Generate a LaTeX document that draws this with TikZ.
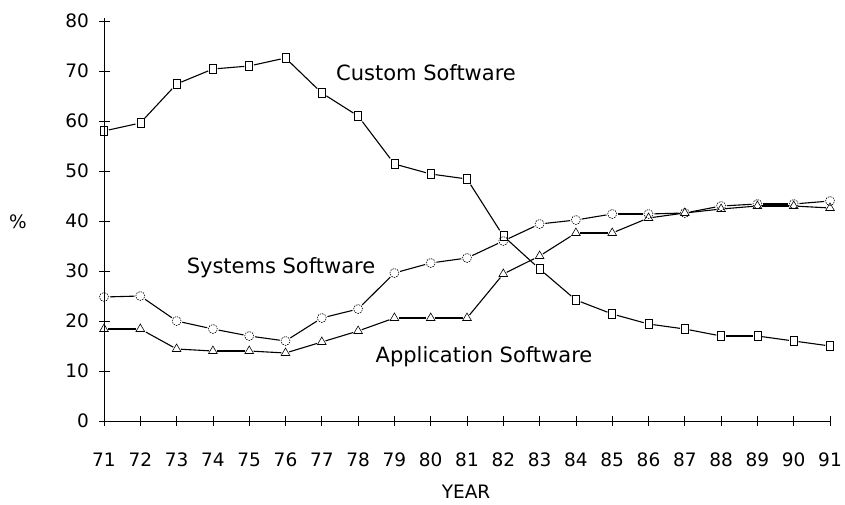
\documentclass[tikz,border=0pt]{standalone}
\usepackage{fontspec}
\setmainfont{DejaVu Sans}
\usetikzlibrary{shapes.geometric}
\tikzset{
  axisline/.style={line width=1pt, black},
  tickmark/.style={line width=0.8pt, black},
  curve/.style={line width=1.1pt, black, shorten <=1pt, shorten >=1pt},
  custmark/.style={draw, rectangle, line width=0.6pt, minimum width=7pt, minimum height=9pt, inner sep=0pt},
  sysmark/.style={draw, circle, dashed, dash pattern=on 1.5pt off 1pt, line width=0.6pt, minimum size=9pt, inner sep=0pt},
  appmark/.style={draw, regular polygon, regular polygon sides=3, line width=0.6pt, minimum size=10pt, inner sep=0pt},
  ticklabel/.style={font=\fontsize{18.5}{20}\selectfont, inner sep=0pt},
  serieslabel/.style={font=\fontsize{21}{24}\selectfont, inner sep=0pt},
}
\begin{document}
\begin{tikzpicture}[x=1pt, y=1pt]
\useasboundingbox (0,0) rectangle (845,504);

% axes
\coordinate (origin) at (104,83);
\coordinate (xend) at (830,83);
\coordinate (yend) at (104,486);
\draw[axisline] (origin) -- (xend);
\draw[axisline] (origin) -- (yend);

% y ticks and labels
\foreach \v in {0,10,...,80} {
  \draw[tickmark] (99,{83+5*\v}) -- (110,{83+5*\v});
  \node[ticklabel, anchor=east] (yl\v) at (89,{83+5*\v}) {\v};
}
% x ticks and labels
\foreach \yr in {71,...,91} {
  \draw[tickmark] ({104+(\yr-71)*36.3},78) -- ({104+(\yr-71)*36.3},88);
  \node[ticklabel] (xl\yr) at ({104+(\yr-71)*36.3},44) {\yr};
}
\node[ticklabel] (xtitle) at (466,12) {YEAR};
\node[ticklabel] (ytitle) at (18,282) {\%};

% Custom Software
\foreach \yr/\v in {71/58,72/59.6,73/67.4,74/70.4,75/71,76/72.6,77/65.6,78/61,79/51.4,80/49.4,
  81/48.4,82/37,83/30.4,84/24.2,85/21.4,86/19.4,87/18.4,88/17,89/17,90/16,91/15}
  \node[custmark] (c\yr) at ({104+(\yr-71)*36.3},{83+5*\v}) {};
% Systems Software
\foreach \yr/\v in {71/24.8,72/25,73/20,74/18.4,75/17,76/16,77/20.6,78/22.4,79/29.6,80/31.6,
  81/32.6,82/36,83/39.4,84/40.2,85/41.4,86/41.4,87/41.6,88/43,89/43.4,90/43.4,91/44}
  \node[sysmark] (s\yr) at ({104+(\yr-71)*36.3},{83+5*\v}) {};
% Application Software
\foreach \yr/\v in {71/18.4,72/18.4,73/14.4,74/14,75/14,76/13.6,77/15.8,78/18,79/20.6,80/20.6,
  81/20.6,82/29.4,83/33,84/37.6,85/37.6,86/40.6,87/41.6,88/42.4,89/43,90/43,91/42.6}
  \node[appmark] (a\yr) at ({104+(\yr-71)*36.3},{83+5*\v}) {};

% connecting segments
\foreach \yr in {72,...,91} {
  \pgfmathtruncatemacro{\prev}{\yr-1}
  \draw[curve] (c\prev) -- (c\yr);
  \draw[curve] (s\prev) -- (s\yr);
  \draw[curve] (a\prev) -- (a\yr);
}

% series labels
\node[serieslabel] (lcust) at (426,431) {Custom Software};
\node[serieslabel] (lsys) at (281,236) {Systems Software};
\node[serieslabel] (lapp) at (484,147) {Application Software};
\end{tikzpicture}
\end{document}
